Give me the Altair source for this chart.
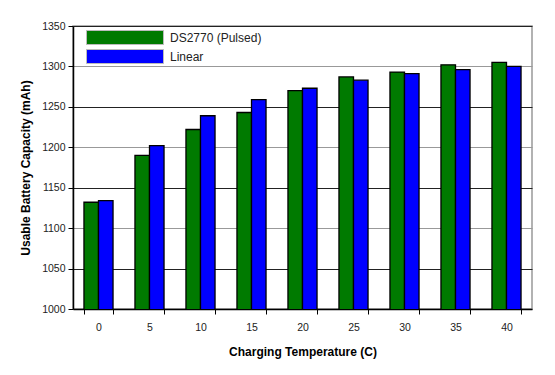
import altair as alt
import pandas as pd

temps = ["0", "5", "10", "15", "20", "25", "30", "35", "40"]
pulsed = [1132, 1190, 1222, 1243, 1270, 1287, 1293, 1302, 1305]
linear = [1134, 1202, 1239, 1259, 1273, 1283, 1291, 1296, 1300]
series = ["DS2770 (Pulsed)", "Linear"]
colors = ["#007a00", "#0000ff"]
y_ticks = [1000, 1050, 1100, 1150, 1200, 1250, 1300, 1350]

rows = []
for t, p, l in zip(temps, pulsed, linear):
    rows.append({"temp": t, "series": series[0], "value": p})
    rows.append({"temp": t, "series": series[1], "value": l})
df = pd.DataFrame(rows)

FONT = "Liberation Sans"

chart = alt.Chart(df).mark_bar(stroke="black", strokeWidth=1.3, clip=True).encode(
    x=alt.X(
        "temp:N",
        sort=temps,
        scale=alt.Scale(paddingInner=0.43, paddingOuter=0.215),
        axis=alt.Axis(
            title="Charging Temperature (C)",
            labelAngle=0,
            tickBand="extent",
            tickSize=5,
            tickColor="black",
            domainColor="black",
            domainWidth=1.5,
            labelPadding=8,
            titlePadding=14,
        ),
    ),
    xOffset=alt.XOffset("series:N", sort=series),
    y=alt.Y(
        "value:Q",
        scale=alt.Scale(domain=[1000, 1350], nice=False, zero=False),
        axis=alt.Axis(
            title="Usable Battery Capacity (mAh)",
            values=y_ticks,
            format="d",
            grid=True,
            gridColor=alt.condition("datum.value % 100 == 0", alt.value("#999999"), alt.value("#222222")),
            gridWidth=1,
            tickSize=5,
            tickColor="black",
            domainColor="black",
            domainWidth=1.5,
            labelPadding=3,
            titlePadding=9,
        ),
    ),
    color=alt.Color(
        "series:N",
        sort=series,
        scale=alt.Scale(domain=series, range=colors),
        legend=alt.Legend(
            title=None,
            orient="none",
            legendX=13,
            legendY=4,
            symbolType="M-1,-1 H10 V1 H-1 Z",
            symbolSize=196,
            symbolStrokeColor="#bbbbbb",
            symbolStrokeWidth=1,
            symbolOpacity=1,
            labelOffset=69,
            rowPadding=0,
            labelFontSize=12,
            labelColor="#222222",
            labelFont=FONT,
            padding=0,
        ),
    ),
).properties(
    width=459,
    height=283,
    padding={"left": 65, "top": 18, "right": 15, "bottom": 58},
    autosize="none",
    background="white",
).configure_view(
    stroke="#999999",
    strokeWidth=1.5,
).configure_axis(
    labelFont=FONT,
    labelFontSize=10.5,
    labelColor="#222222",
    titleFont=FONT,
    titleFontSize=12,
    titleFontWeight="bold",
    titleColor="black",
)

chart.save("out.html", embed_options={"renderer": "svg", "actions": False})
